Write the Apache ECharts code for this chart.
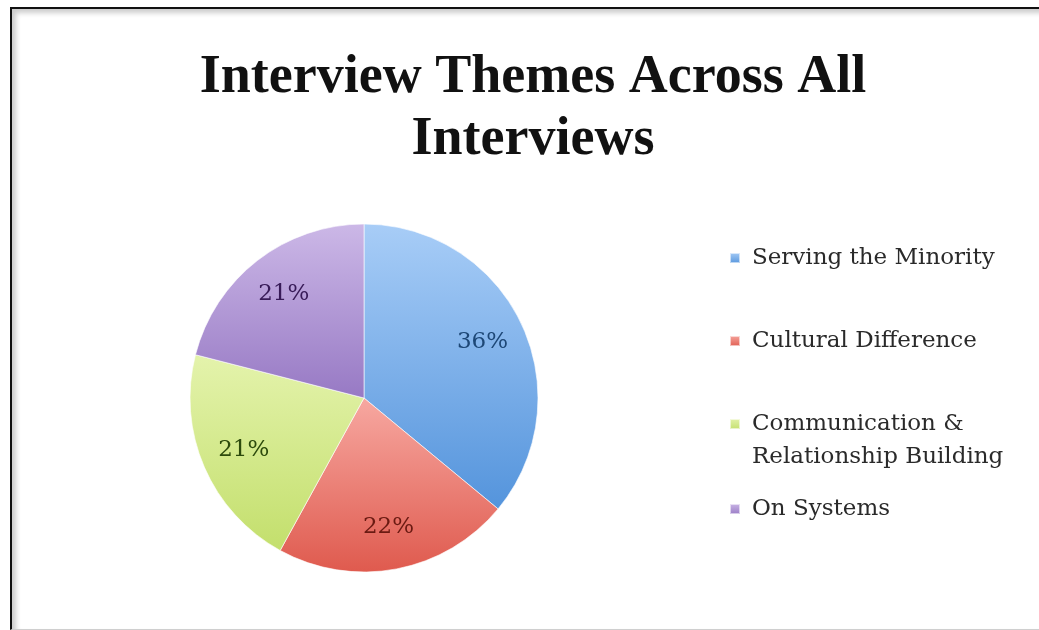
<!DOCTYPE html>
<html>
<head>
<meta charset="utf-8">
<script src="https://cdn.jsdelivr.net/npm/echarts@6/dist/echarts.min.js"></script>
<style>
  html, body { margin: 0; padding: 0; background: #fff; overflow: hidden; }
  #frame {
    position: absolute; left: 10px; top: 7px; width: 1080px; height: 620px;
    border-left: 2px solid #111; border-top: 2px solid #111; border-bottom: 1px solid #cfcfcf;
    box-shadow: inset 4px 4px 5px rgba(0,0,0,0.2);
  }
  #chart { position: absolute; left: 0; top: 0; width: 1039px; height: 630px; }
</style>
</head>
<body>
<div id="frame"></div>
<div id="chart"></div>
<script>
// Interview themes and their share of all coded interview passages (%)
const categories = ['Serving the Minority', 'Cultural Difference', 'Communication & Relationship Building', 'On Systems'];
const shares = [36, 22, 21, 21];
// How each theme name is broken onto lines in the legend
const legendText = ['Serving the Minority', 'Cultural Difference', '\nCommunication &\nRelationship Building', 'On Systems'];

// Slice fills: light top → deeper bottom; label ink per slice
const fillTop = ['#a8cdf7', '#f7a8a1', '#e4f3ac', '#ccb8e7'];
const fillBottom = ['#5494dc', '#df5a4e', '#c3df6c', '#9779c4'];
const labelInk = ['#1d4776', '#6a1a12', '#2c4a0c', '#371a57'];

const serif = '"DejaVu Serif", serif';

const slices = categories.map((name, i) => ({
  name: name,
  value: shares[i],
  itemStyle: {
    color: new echarts.graphic.LinearGradient(0, 0, 0, 1, [
      { offset: 0, color: fillTop[i] },
      { offset: 1, color: fillBottom[i] }
    ])
  }
}));

const labelRing = categories.map((name, i) => ({
  name: name,
  value: shares[i],
  label: { color: labelInk[i] }
}));

// One legend block per theme, stacked down the right side
const legendCenters = [258, 341, 424, 509];
const lineH = 33;
const legends = categories.map((name, i) => {
  const lines = legendText[i].split('\n').length;
  return {
    data: [name],
    orient: 'vertical',
    left: 729,
    top: legendCenters[i] - lines * lineH / 2,
    padding: 0,
    itemWidth: 10,
    itemHeight: 10,
    icon: 'rect',
    selectedMode: false,
    formatter: () => legendText[i],
    textStyle: {
      fontFamily: serif,
      fontSize: 23,
      lineHeight: lineH,
      color: '#2a2a2a',
      padding: [0, 0, 0, 7]
    }
  };
});

const chart = echarts.init(document.getElementById('chart'), null, { renderer: 'canvas' });
chart.setOption({
  backgroundColor: 'transparent',
  animation: false,
  title: {
    text: 'Interview Themes Across All\nInterviews',
    left: 533,
    top: 47,
    padding: 0,
    textAlign: 'center',
    textStyle: {
      fontFamily: '"Liberation Serif", serif',
      fontWeight: 'bold',
      fontSize: 54,
      lineHeight: 62,
      color: '#111'
    }
  },
  legend: legends,
  series: [
    {
      type: 'pie',
      center: [364, 398],
      radius: [0, 174],
      startAngle: 90,
      clockwise: true,
      silent: true,
      label: { show: false },
      labelLine: { show: false },
      itemStyle: { borderColor: 'rgba(255,255,255,0.6)', borderWidth: 1 },
      data: slices
    },
    {
      type: 'pie',
      center: [364, 398],
      radius: [82, 174],
      startAngle: 90,
      clockwise: true,
      silent: true,
      itemStyle: { color: 'rgba(0,0,0,0)', borderWidth: 0 },
      label: {
        show: true,
        position: 'inside',
        formatter: '{c}%',
        fontFamily: serif,
        fontSize: 23
      },
      labelLine: { show: false },
      data: labelRing
    }
  ]
});
</script>
</body>
</html>
